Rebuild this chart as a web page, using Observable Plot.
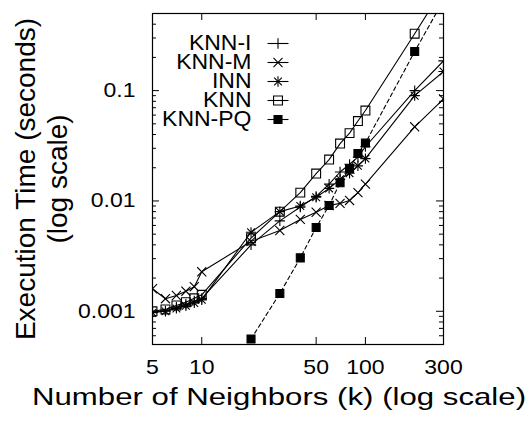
<!DOCTYPE html>
<html>
<head>
<meta charset="utf-8">
<script src="https://cdn.jsdelivr.net/npm/d3@7"></script>
<script src="https://cdn.jsdelivr.net/npm/@observablehq/plot@0.6"></script>
<style>
  html, body { margin: 0; padding: 0; background: #fff; }
  #chart { position: relative; width: 529px; height: 422px; }
  #legend { position: absolute; left: 150px; top: 21px; }
</style>
</head>
<body>
<div id="chart"></div>
<script>
// Number of neighbors k
const neighbors = [5, 6, 7, 8, 9, 10, 20, 30, 40, 50, 60, 70, 80, 90, 100, 200, 300];
// Execution time in seconds per method
const timeKnnI = [0.00098, 0.00101, 0.00109, 0.00116, 0.00124, 0.00131, 0.0040, 0.0066, 0.0088, 0.0110, 0.0142, 0.0183, 0.0215, 0.0250, 0.0310, 0.100, 0.186];
const timeKnnM = [0.00160, 0.00130, 0.00139, 0.00152, 0.00167, 0.00228, 0.0043, 0.0054, 0.0068, 0.0079, 0.0091, 0.0095, 0.0101, 0.0119, 0.0142, 0.047, 0.084];
const timeInn  = [0.00097, 0.00100, 0.00106, 0.00112, 0.00119, 0.00127, 0.0052, 0.0080, 0.0090, 0.0108, 0.0130, 0.0157, 0.0178, 0.0208, 0.0242, 0.090, 0.149];
const timeKnn  = [0.00100, 0.00104, 0.00113, 0.00121, 0.00131, 0.00141, 0.0046, 0.0080, 0.0119, 0.0177, 0.0237, 0.0331, 0.0412, 0.0530, 0.0660, 0.328, 0.85];
// KNN-PQ was only measured from k = 20
const pqNeighbors = [20, 30, 40, 50, 60, 70, 80, 90, 100, 200, 300];
const timeKnnPQ = [0.00056, 0.00145, 0.00305, 0.00575, 0.0091, 0.0146, 0.0197, 0.0269, 0.0335, 0.226, 0.66];

const seriesNames = ["KNN-I", "KNN-M", "INN", "KNN", "KNN-PQ"];
const xTicks = [5, 10, 50, 100, 300];
const yTicks = [0.001, 0.01, 0.1];
const xTitle = "Number of Neighbors (k) (log scale)";
const yTitle = "Execution Time (seconds)\n(log scale)";

// point styles, gnuplot-like
const styles = {
  "KNN-I":  {symbols: [{symbol: "plus", r: 3.4}], fill: "none"},
  "KNN-M":  {symbols: [{symbol: "times", r: 4.2}], fill: "none"},
  "INN":    {symbols: [{symbol: "plus", r: 3.4}, {symbol: "times", r: 3.6}], fill: "none"},
  "KNN":    {symbols: [{symbol: "square", r: 5.0}], fill: "none"},
  "KNN-PQ": {symbols: [{symbol: "square", r: 4.5}], fill: "black", dash: "4,3"}
};

const seriesData = [
  {name: "KNN-I", k: neighbors, t: timeKnnI},
  {name: "KNN-M", k: neighbors, t: timeKnnM},
  {name: "INN", k: neighbors, t: timeInn},
  {name: "KNN", k: neighbors, t: timeKnn},
  {name: "KNN-PQ", k: pqNeighbors, t: timeKnnPQ}
].map(s => ({name: s.name, rows: s.k.map((k, i) => ({k, t: s.t[i]}))}));

// minor ticks at 2..9 of each decade inside the domain
const yDomain = [0.0005, 0.5];
const yMinor = [];
for (const d of [0.0001, 0.001, 0.01, 0.1]) for (let m = 2; m <= 9; ++m) {
  const v = +(d * m).toPrecision(3);
  if (v > yDomain[0] && v < yDomain[1]) yMinor.push(v);
}

const W = 529, H = 422, mL = 152, mR = 86, mT = 13, mB = 78;
const innerW = W - mL - mR, innerH = H - mT - mB;
const font = "'Liberation Sans', Arial, Helvetica, sans-serif";

const marks = [];
for (const s of seriesData) {
  const st = styles[s.name];
  marks.push(Plot.line(s.rows, {x: "k", y: "t", stroke: "black", strokeWidth: 1.1, strokeDasharray: st.dash, clip: true}));
}
for (const s of seriesData) {
  const st = styles[s.name];
  for (const sym of st.symbols) {
    marks.push(Plot.dot(s.rows, {x: "k", y: "t", symbol: sym.symbol, r: sym.r, stroke: "black", strokeWidth: 1.1, fill: st.fill, clip: true}));
  }
}

const chart = Plot.plot({
  width: W, height: H,
  marginLeft: mL, marginRight: mR, marginTop: mT, marginBottom: mB,
  style: {fontFamily: font, background: "white", color: "black"},
  x: {type: "log", domain: [5, 300]},
  y: {type: "log", domain: yDomain},
  marks: [
    // inward ticks on all four sides
    Plot.ruleX(xTicks, {x: d => d, insetTop: innerH - 7, stroke: "black"}),
    Plot.ruleX(xTicks, {x: d => d, insetBottom: innerH - 7, stroke: "black"}),
    Plot.ruleY(yTicks, {y: d => d, insetRight: innerW - 7, stroke: "black"}),
    Plot.ruleY(yTicks, {y: d => d, insetLeft: innerW - 7, stroke: "black"}),
    Plot.ruleY(yMinor, {y: d => d, insetRight: innerW - 4, stroke: "black"}),
    Plot.ruleY(yMinor, {y: d => d, insetLeft: innerW - 4, stroke: "black"}),
    Plot.axisX({ticks: xTicks, tickSize: 0, tickPadding: 15, tickFormat: d => String(d), label: null, fontSize: 20, className: "wide"}),
    Plot.axisY({ticks: yTicks, tickSize: 0, tickPadding: 17, tickFormat: d => String(d), label: null, fontSize: 20, className: "wide"}),
    ...marks,
    Plot.frame({stroke: "black", strokeWidth: 1.2}),
    Plot.text([xTitle], {frameAnchor: "bottom", textAnchor: "middle", lineAnchor: "middle", dx: -19, dy: 53, fontSize: 24, className: "wider"}),
    Plot.text([yTitle], {frameAnchor: "left", textAnchor: "middle", lineAnchor: "middle", dx: -112, rotate: -90, fontSize: 28, lineHeight: 1.14})
  ]
});

// widen glyphs horizontally about each text's own anchor
function widen(root, selector, sx) {
  d3.select(root).selectAll(selector).each(function () {
    const t = d3.select(this);
    const tr = t.attr("transform");
    if (tr) t.attr("transform", tr + ` scale(${sx},1)`);
    else {
      const x = +t.attr("x") || 0, y = +t.attr("y") || 0;
      t.attr("transform", `translate(${x},${y}) scale(${sx},1) translate(${-x},${-y})`);
    }
  });
}
widen(chart, ".wide text", 1.15);
widen(chart, ".wider text", 1.3);

// legend in the upper-left corner of the plot area
const legendRows = seriesNames.map(name => ({name}));
const legendMarks = [
  Plot.text(legendRows, {x: () => 101, y: "name", text: "name", textAnchor: "end", fontSize: 21.5, className: "wide"}),
  Plot.link(legendRows, {x1: () => 117, x2: () => 138, y1: "name", y2: "name", stroke: "black", strokeWidth: 1.1,
    strokeDasharray: d => styles[d.name].dash ?? null})
];
for (const row of legendRows) {
  const st = styles[row.name];
  for (const sym of st.symbols) {
    legendMarks.push(Plot.dot([row], {x: () => 127.5, y: "name", symbol: sym.symbol, r: sym.r, stroke: "black", strokeWidth: 1.1, fill: st.fill}));
  }
}
const legend = Plot.plot({
  width: 150, height: 122,
  margin: 0,
  style: {fontFamily: font, background: "transparent", color: "black"},
  x: {type: "identity"},
  y: {type: "point", domain: seriesNames, range: [12, 108], axis: null},
  marks: legendMarks
});
widen(legend, ".wide text", 1.07);
legend.id = "legend";

const host = document.getElementById("chart");
host.appendChild(chart);
host.appendChild(legend);
</script>
</body>
</html>
